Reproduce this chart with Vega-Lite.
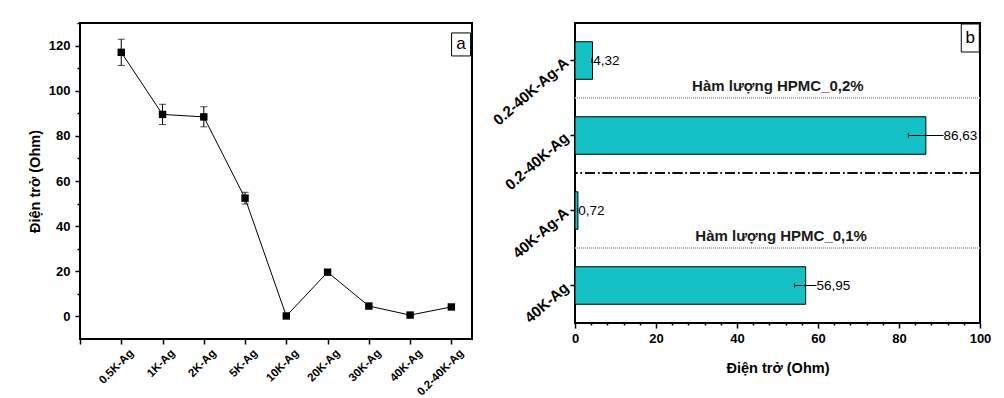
{
  "$schema": "https://vega.github.io/schema/vega-lite/v6.json",
  "background": "white",
  "padding": {"left": 26, "top": 14, "right": 5, "bottom": 2},
  "spacing": 15,
  "config": {
    "font": "Liberation Sans",
    "view": {"stroke": "black", "strokeWidth": 2},
    "axis": {"domain": false, "grid": false, "tickColor": "black", "tickWidth": 1.5, "labelColor": "black", "titleColor": "black", "labelFontWeight": "bold", "titleFontWeight": "bold", "labelOverlap": false, "labelBound": false, "labelFlush": false},
    "locale": {"number": {"decimal": ",", "thousands": ".", "grouping": [3], "currency": ["", ""]}}
  },
  "hconcat": [
    {
      "width": 392,
      "height": 316,
      "data": {"values": [
        {"name": "0.5K-Ag", "pos": 1, "v": 117, "lo": 111.2, "hi": 122.8},
        {"name": "1K-Ag", "pos": 2, "v": 89.5, "lo": 85, "hi": 94},
        {"name": "2K-Ag", "pos": 3, "v": 88.4, "lo": 84, "hi": 92.9},
        {"name": "5K-Ag", "pos": 4, "v": 52.4, "lo": 49.8, "hi": 55},
        {"name": "10K-Ag", "pos": 5, "v": 0.2, "lo": 0, "hi": 0.4},
        {"name": "20K-Ag", "pos": 6, "v": 19.6, "lo": 19.3, "hi": 19.9},
        {"name": "30K-Ag", "pos": 7, "v": 4.6, "lo": 4.3, "hi": 4.9},
        {"name": "40K-Ag", "pos": 8, "v": 0.6, "lo": 0.4, "hi": 0.8},
        {"name": "0.2-40K-Ag", "pos": 9, "v": 4.2, "lo": 4.0, "hi": 4.4}
      ]},
      "encoding": {
        "x": {"field": "pos", "type": "quantitative", "scale": {"domain": [0, 9.5], "nice": false, "zero": false},
          "axis": {"title": null, "values": [0,1,2,3,4,5,6,7,8,9], "tickSize": 5, "labelOverlap": false,
            "labelExpr": "['','0.5K-Ag','1K-Ag','2K-Ag','5K-Ag','10K-Ag','20K-Ag','30K-Ag','40K-Ag','0.2-40K-Ag'][datum.value]",
            "labelAngle": -45, "labelAlign": "right", "labelBaseline": "top", "labelFontSize": 11.5, "labelOffset": 6, "labelPadding": 3}},
        "y": {"field": "v", "type": "quantitative", "scale": {"domain": [-10, 130], "nice": false, "zero": false},
          "axis": {"title": "Điện trở (Ohm)", "titleFontSize": 14.5, "titlePadding": 6, "labelOverlap": false,
            "values": [0,10,20,30,40,50,60,70,80,90,100,110,120,130],
            "labelExpr": "datum.value % 20 === 0 && datum.value <= 120 ? datum.label : ''",
            "tickSize": {"condition": {"test": "datum.value % 20 !== 0", "value": 3}, "value": 5},
            "labelFontSize": 13, "labelPadding": 5}}
      },
      "layer": [
        {"mark": {"type": "line", "color": "black", "strokeWidth": 1}},
        {"mark": {"type": "rule", "color": "black", "strokeWidth": 1}, "encoding": {"y": {"field": "lo", "type": "quantitative"}, "y2": {"field": "hi"}}},
        {"mark": {"type": "tick", "orient": "horizontal", "color": "black", "size": 7, "thickness": 1}, "encoding": {"y": {"field": "lo", "type": "quantitative"}}},
        {"mark": {"type": "tick", "orient": "horizontal", "color": "black", "size": 7, "thickness": 1}, "encoding": {"y": {"field": "hi", "type": "quantitative"}}},
        {"mark": {"type": "point", "shape": "square", "filled": true, "color": "black", "size": 55, "opacity": 1}},
        {"data": {"values": [{"t": "a", "cx": 9.235, "cy": 120.5}]},
          "encoding": {"x": {"field": "cx", "type": "quantitative"}, "y": {"field": "cy", "type": "quantitative"}},
          "layer": [
            {"mark": {"type": "point", "shape": "M-0.826,-1H0.826V1H-0.826Z", "filled": true, "fill": "white", "stroke": "black", "strokeWidth": 1, "size": 529, "opacity": 1}},
            {"mark": {"type": "text", "fontSize": 17, "align": "center", "baseline": "middle", "color": "black"}, "encoding": {"text": {"field": "t"}}}
          ]}
      ]
    },
    {
      "width": 405,
      "height": 300,
      "title": {"text": " ", "fontSize": 4, "offset": 3},
      "data": {"values": [
        {"name": "0.2-40K-Ag-A", "v": 4.32, "lo": 4.1, "hi": 4.5},
        {"name": "0.2-40K-Ag", "v": 86.63, "lo": 82.3, "hi": 91.0},
        {"name": "40K-Ag-A", "v": 0.72, "lo": 0.6, "hi": 0.8},
        {"name": "40K-Ag", "v": 56.95, "lo": 54.2, "hi": 59.6}
      ]},
      "encoding": {
        "y": {"field": "name", "type": "nominal", "sort": null,
          "scale": {"domain": ["0.2-40K-Ag-A", "0.2-40K-Ag", "40K-Ag-A", "40K-Ag"], "paddingInner": 0, "paddingOuter": 0},
          "axis": {"title": null, "labelAngle": -41, "labelAlign": "right", "labelBaseline": "middle", "labelFontSize": 15, "tickSize": 5, "labelPadding": 4, "labelOverlap": false}}
      },
      "layer": [
        {"mark": {"type": "bar", "height": {"band": 0.5}, "fill": "#14c2c6", "stroke": "black", "strokeWidth": 1},
          "encoding": {"x": {"field": "v", "type": "quantitative", "scale": {"domain": [0, 100], "nice": false},
            "axis": {"title": "Điện trở (Ohm)", "titleFontSize": 14.5, "titlePadding": 16, "labelOverlap": false,
              "values": [0,4,8,12,16,20,24,28,32,36,40,44,48,52,56,60,64,68,72,76,80,84,88,92,96,100],
              "labelExpr": "datum.value % 20 === 0 ? datum.label : ''",
              "tickSize": {"condition": {"test": "datum.value % 20 !== 0", "value": 2}, "value": 5},
              "labelFontSize": 13, "labelPadding": 4}}}},
        {"mark": {"type": "rule", "color": "black", "strokeWidth": 1}, "encoding": {"x": {"field": "lo", "type": "quantitative",
            "axis": {"title": "Điện trở (Ohm)", "titleFontSize": 14.5, "titlePadding": 16, "labelOverlap": false,
              "values": [0,4,8,12,16,20,24,28,32,36,40,44,48,52,56,60,64,68,72,76,80,84,88,92,96,100],
              "labelExpr": "datum.value % 20 === 0 ? datum.label : ''",
              "tickSize": {"condition": {"test": "datum.value % 20 !== 0", "value": 2}, "value": 5},
              "labelFontSize": 13, "labelPadding": 4}}, "x2": {"field": "hi"}}},
        {"mark": {"type": "tick", "orient": "vertical", "color": "black", "size": 5, "thickness": 1}, "encoding": {"x": {"field": "lo", "type": "quantitative",
            "axis": {"title": "Điện trở (Ohm)", "titleFontSize": 14.5, "titlePadding": 16, "labelOverlap": false,
              "values": [0,4,8,12,16,20,24,28,32,36,40,44,48,52,56,60,64,68,72,76,80,84,88,92,96,100],
              "labelExpr": "datum.value % 20 === 0 ? datum.label : ''",
              "tickSize": {"condition": {"test": "datum.value % 20 !== 0", "value": 2}, "value": 5},
              "labelFontSize": 13, "labelPadding": 4}}}},
        {"mark": {"type": "text", "align": "left", "baseline": "middle", "fontSize": 13.5, "font": "Liberation Sans", "color": "black", "dx": 0},
          "encoding": {"x": {"field": "hi", "type": "quantitative",
            "axis": {"title": "Điện trở (Ohm)", "titleFontSize": 14.5, "titlePadding": 16, "labelOverlap": false,
              "values": [0,4,8,12,16,20,24,28,32,36,40,44,48,52,56,60,64,68,72,76,80,84,88,92,96,100],
              "labelExpr": "datum.value % 20 === 0 ? datum.label : ''",
              "tickSize": {"condition": {"test": "datum.value % 20 !== 0", "value": 2}, "value": 5},
              "labelFontSize": 13, "labelPadding": 4}},
            "text": {"field": "v", "type": "quantitative", "format": ".2f"}}},
        {"mark": {"type": "rule", "color": "#aaaaaa", "strokeWidth": 1, "strokeDash": [1, 1]},
          "encoding": {"y": {"datum": "0.2-40K-Ag", "bandPosition": 0}}},
        {"mark": {"type": "rule", "color": "#aaaaaa", "strokeWidth": 1, "strokeDash": [1, 1]},
          "encoding": {"y": {"datum": "40K-Ag", "bandPosition": 0}}},
        {"mark": {"type": "rule", "color": "black", "strokeWidth": 1.2, "strokeDash": [10, 3, 1.5, 3]},
          "encoding": {"y": {"datum": "40K-Ag-A", "bandPosition": 0}}},
        {"data": {"values": [
            {"t": "Hàm lượng HPMC_0,2%", "cx": 50.1, "cat": "0.2-40K-Ag-A"},
            {"t": "Hàm lượng HPMC_0,1%", "cx": 50.9, "cat": "40K-Ag-A"}
          ]},
          "mark": {"type": "text", "fontSize": 15, "fontWeight": "bold", "align": "center", "baseline": "middle", "color": "#1a1a1a"},
          "encoding": {"x": {"field": "cx", "type": "quantitative",
            "axis": {"title": "Điện trở (Ohm)", "titleFontSize": 14.5, "titlePadding": 16, "labelOverlap": false,
              "values": [0,4,8,12,16,20,24,28,32,36,40,44,48,52,56,60,64,68,72,76,80,84,88,92,96,100],
              "labelExpr": "datum.value % 20 === 0 ? datum.label : ''",
              "tickSize": {"condition": {"test": "datum.value % 20 !== 0", "value": 2}, "value": 5},
              "labelFontSize": 13, "labelPadding": 4}},
            "y": {"field": "cat", "type": "nominal", "bandPosition": 0.84}, "text": {"field": "t"}}},
        {"data": {"values": [{"t": "b", "cx": 97.6, "cat": "0.2-40K-Ag-A"}]},
          "layer": [
            {"mark": {"type": "point", "shape": "M-0.643,-1H0.643V1H-0.643Z", "filled": true, "fill": "white", "stroke": "black", "strokeWidth": 1, "size": 784, "opacity": 1}},
            {"mark": {"type": "text", "fontSize": 17, "align": "center", "baseline": "middle", "color": "black"}, "encoding": {"text": {"field": "t"}}}
          ],
          "encoding": {"x": {"field": "cx", "type": "quantitative",
            "axis": {"title": "Điện trở (Ohm)", "titleFontSize": 14.5, "titlePadding": 16, "labelOverlap": false,
              "values": [0,4,8,12,16,20,24,28,32,36,40,44,48,52,56,60,64,68,72,76,80,84,88,92,96,100],
              "labelExpr": "datum.value % 20 === 0 ? datum.label : ''",
              "tickSize": {"condition": {"test": "datum.value % 20 !== 0", "value": 2}, "value": 5},
              "labelFontSize": 13, "labelPadding": 4}},
            "y": {"field": "cat", "type": "nominal", "bandPosition": 0.2}}}
      ]
    }
  ]
}
